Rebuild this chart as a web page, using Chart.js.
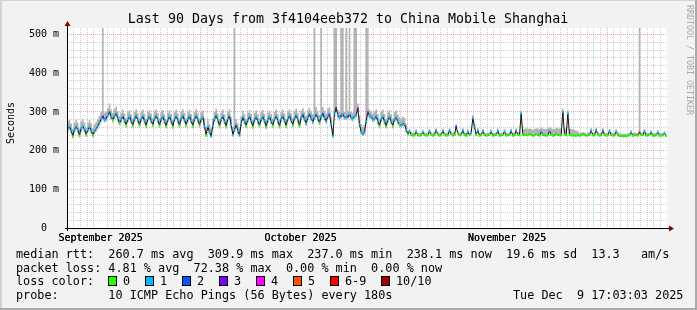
<!DOCTYPE html>
<html>
<head>
<meta charset="utf-8">
<script src="https://cdn.jsdelivr.net/npm/chart.js@4.4.1/dist/chart.umd.min.js"></script>
<style>
html, body { margin: 0; padding: 0; background: #f2f2f2; }
canvas { display: block; }
</style>
</head>
<body>
<canvas id="myChart" width="697" height="310"></canvas>
<script>
'use strict';

// smokeping graph, last 90 days, one bin = 6 hours
// x axis is in days since the start of the graph
var binStart = 0.125;
var binSize = 0.25;

var yTickValues = [0, 100, 200, 300, 400, 500];
var yTickLabels = ['0  ', '100 m', '200 m', '300 m', '400 m', '500 m'];
var yMinorStep = 20;
var yTop = 517;

var firstMidnight = 0.03;               // sep 11 00:00
var monthStarts = [20.03, 51.03, 81.03]; // oct 1, nov 1, dec 1
var monthLabelDays = [5.03, 35.03, 66.03];
var monthLabels = ['September 2025', 'October 2025', 'November 2025'];

var lossNames = ['0', '1', '2', '3', '4', '5', '6-9', '10/10'];
var lossColors = ['#26ff00', '#00b8ff', '#0059ff', '#7e00ff', '#ff00ff', '#ff5500', '#ff0000', '#a10000'];

// median rtt in ms, 4 values a day
var medianRtt = [
    258,262,252,237, 255,262,254,239, 258,263,255,241, 254,261,252,240, 250,256,264,272,
    282,288,280,284, 292,299,288,279, 290,296,283,271, 280,289,278,266, 281,288,277,265,
    282,290,279,266, 281,289,277,264, 282,288,278,266, 283,290,279,265, 281,288,276,263,
    280,288,277,262, 282,289,278,265, 283,290,279,266, 281,289,277,264, 282,290,280,266,
    281,287,262,240, 262,248,237,265, 282,291,278,264, 280,289,276,263, 282,290,266,241,
    254,267,250,240, 270,286,276,264, 280,288,277,262, 280,287,276,265, 281,288,277,262,
    280,287,276,265, 282,289,277,263, 281,289,278,264, 283,290,279,266, 284,291,280,264,
    285,292,282,270, 286,293,284,274, 287,294,283,272, 288,295,285,276, 289,294,268,238,
    296,310,292,285, 290,295,286,287, 288,294,285,283, 289,292,309,268, 248,244,247,276,
    300,291,288,281, 283,289,276,264, 281,288,276,263, 280,287,275,264, 281,286,275,268,
    265,270,268,254, 242,250,241,239, 240,249,240,239, 240,248,241,239, 240,250,241,239,
    241,252,242,239, 240,251,242,239, 240,252,243,239, 241,262,245,240, 241,252,241,239,
    249,240,246,284, 262,241,252,239, 240,250,241,239, 240,241,249,239, 240,241,251,239,
    240,241,249,239, 240,241,251,239, 240,252,241,240, 296,242,240,241, 240,244,241,239,
    240,243,241,239, 249,241,240,239, 240,251,241,239, 240,244,241,240, 240,300,242,240,
    296,241,240,239, 240,238,241,239, 240,242,241,239, 240,241,252,240, 240,253,242,239,
    240,252,241,239, 240,250,241,239, 240,249,241,238, 238,237,238,237, 239,240,247,239,
    240,241,239,247, 241,240,250,239, 240,240,247,239, 239,240,247,239, 239,240,244,238
];

// top of the smoke (slowest ping), 600 = off the top of the graph
var smokeHigh = [
    276,280,270,256, 273,280,272,258, 276,281,273,260, 272,279,270,258, 268,274,282,290,
    300,600,298,302, 310,322,306,297, 308,314,301,289, 298,306,296,284, 299,305,295,283,
    300,307,297,284, 299,306,295,282, 300,305,296,284, 301,307,297,283, 299,305,294,281,
    298,305,295,280, 300,306,296,283, 301,307,297,284, 299,306,295,282, 300,307,298,284,
    299,304,284,262, 282,268,258,284, 300,308,296,282, 298,306,294,281, 300,307,286,262,
    600,282,270,260, 288,303,294,282, 298,305,295,280, 298,304,294,283, 299,305,295,280,
    298,304,294,283, 300,306,295,281, 299,306,296,282, 301,307,297,284, 302,308,298,282,
    304,310,300,290, 305,311,302,294, 600,312,301,292, 600,313,303,296, 308,312,288,260,
    600,600,306,300, 600,600,300,600, 302,600,300,298, 600,600,322,290, 268,262,266,600,
    600,306,302,296, 302,307,295,283, 300,306,295,282, 299,305,294,283, 300,304,294,286,
    283,288,285,270, 250,256,248,246, 247,255,246,245, 247,254,247,245, 247,256,247,245,
    248,258,249,245, 247,257,248,245, 247,258,249,245, 248,268,251,246, 248,258,247,245,
    255,246,252,292, 270,247,258,245, 246,256,247,245, 246,247,255,245, 246,247,257,245,
    246,247,255,245, 246,247,257,245, 247,258,248,247, 304,254,256,258, 255,258,256,254,
    256,258,257,255, 260,257,256,255, 257,262,258,256, 256,259,258,257, 257,308,258,256,
    304,257,256,255, 254,252,250,245, 246,248,247,245, 246,247,258,246, 246,259,248,245,
    246,258,247,245, 246,256,247,245, 246,255,247,244, 244,243,244,243, 245,246,253,245,
    246,247,245,600, 247,246,256,245, 246,246,253,245, 245,246,253,245, 245,246,250,244
];

// bottom of the smoke (fastest ping)
var smokeLow = [
    250,254,245,232, 248,254,247,234, 250,255,248,235, 247,253,245,234, 244,249,256,264,
    274,280,272,276, 284,290,280,272, 282,288,276,265, 273,281,271,260, 274,280,270,259,
    275,282,272,260, 274,281,270,258, 275,280,271,260, 276,282,272,259, 274,280,269,257,
    273,280,270,256, 275,281,271,259, 276,282,272,260, 274,281,270,258, 275,282,273,260,
    274,279,256,235, 256,243,233,258, 275,283,271,258, 273,281,269,257, 275,282,260,236,
    248,260,245,235, 263,278,269,258, 273,280,270,256, 273,279,269,259, 274,280,270,256,
    273,279,269,259, 275,281,270,257, 274,281,271,258, 276,282,272,260, 277,283,273,258,
    278,284,275,264, 279,285,277,268, 280,286,276,266, 281,287,278,270, 282,286,262,233,
    288,300,285,278, 283,287,279,280, 281,286,278,276, 282,285,299,262, 242,238,241,269,
    290,283,281,274, 276,281,269,258, 274,280,269,257, 273,279,268,258, 274,278,268,262,
    259,263,261,248, 239,246,238,236, 237,245,237,236, 237,244,238,236, 237,246,238,236,
    238,248,239,236, 237,247,239,236, 237,248,240,236, 238,256,242,237, 238,248,238,236,
    245,237,242,276, 256,238,248,236, 237,246,238,236, 237,238,245,236, 237,238,247,236,
    237,238,245,236, 237,238,247,236, 237,248,238,237, 288,239,237,238, 237,240,238,236,
    237,240,238,236, 245,238,237,236, 237,247,238,236, 237,240,238,237, 237,292,239,237,
    288,238,237,236, 237,235,238,236, 237,239,238,236, 237,238,248,237, 237,249,239,236,
    237,248,238,236, 237,246,238,236, 237,245,238,235, 235,234,235,234, 236,237,243,236,
    237,238,236,243, 238,237,246,236, 237,237,243,236, 236,237,243,236, 236,237,241,235
];

// lost pings per bin, index into lossColors
var lossLevel = [
    1,1,1,0, 1,1,1,0, 1,1,1,0, 1,1,1,0, 1,1,1,1,
    1,3,1,2, 1,2,1,0, 1,1,1,0, 1,1,1,0, 1,1,1,0,
    1,1,1,0, 1,1,1,0, 1,1,1,0, 1,1,1,0, 1,1,1,0,
    1,1,1,0, 1,1,1,0, 1,1,1,0, 1,1,1,0, 1,1,1,0,
    1,1,1,0, 1,1,1,1, 1,1,1,0, 1,1,1,0, 1,1,1,1,
    1,1,1,1, 1,1,1,0, 1,1,1,0, 1,1,1,0, 1,1,1,0,
    1,1,1,0, 1,1,1,0, 1,1,1,0, 1,1,1,0, 1,1,1,0,
    1,2,1,1, 1,2,1,1, 1,1,1,0, 1,2,1,1, 1,2,1,1,
    1,3,1,1, 2,1,1,1, 3,1,1,1, 1,1,3,1, 1,1,1,1,
    4,1,1,1, 1,1,1,0, 1,1,1,0, 1,1,1,0, 1,1,1,0,
    1,1,1,1, 0,1,0,0, 0,1,0,0, 0,1,0,0, 0,1,0,0,
    0,1,0,0, 0,1,0,0, 0,1,0,0, 0,3,0,0, 0,1,0,0,
    1,0,1,1, 1,0,1,0, 0,1,0,0, 0,0,1,0, 0,0,1,0,
    0,0,1,0, 0,0,1,0, 0,1,0,0, 1,0,0,0, 0,0,0,0,
    0,0,0,0, 1,0,0,0, 0,1,0,0, 0,0,0,0, 0,1,0,0,
    1,0,0,0, 0,0,0,0, 0,0,0,0, 0,0,1,0, 0,1,0,0,
    0,1,0,0, 0,1,0,0, 0,1,0,0, 0,0,0,0, 0,0,1,0,
    0,0,0,6, 0,0,1,0, 0,0,1,0, 0,0,1,0, 0,0,1,0
];

var chartTitle = 'Last 90 Days from 3f4104eeb372 to China Mobile Shanghai';
var yAxisTitle = 'Seconds';
var legendLines = [
    'median rtt:  260.7 ms avg  309.9 ms max  237.0 ms min  238.1 ms now  19.6 ms sd  13.3   am/s',
    'packet loss: 4.81 % avg  72.38 % max  0.00 % min  0.00 % now',
    'loss color:',
    'probe:       10 ICMP Echo Pings (56 Bytes) every 180s'
];
var dateStamp = 'Tue Dec  9 17:03:03 2025';
var watermark = 'RRDTOOL / TOBI OETIKER';

var minorGrid = 'rgba(160,160,160,0.5)';
var majorGrid = 'rgba(215,90,90,0.55)';
var monoFont = '"DejaVu Sans Mono", monospace';

function toPoints(values) {
    return values.map(function (v, i) {
        return { x: binStart + i * binSize, y: v };
    });
}

function isMonthStart(v) {
    for (var i = 0; i < monthStarts.length; i++) {
        if (Math.abs(v - monthStarts[i]) < 0.01) return true;
    }
    return false;
}

function xGridColor(c) {
    if (!c.tick) return 'rgba(0,0,0,0)';
    if (monthLabelDays.indexOf(c.tick.value) >= 0) return 'rgba(0,0,0,0)';
    return isMonthStart(c.tick.value) ? majorGrid : minorGrid;
}

function yGridColor(c) {
    if (!c.tick) return 'rgba(0,0,0,0)';
    return c.tick.value % 100 === 0 ? majorGrid : minorGrid;
}

// background, frame, axes, title and the legend text
var paperPlugin = {
    id: 'paper',
    beforeDraw: function (chart) {
        var c = chart.ctx;
        var a = chart.chartArea;
        c.save();
        c.fillStyle = '#f2f2f2';
        c.fillRect(0, 0, chart.width, chart.height);
        c.fillStyle = '#d4d4d4';
        c.fillRect(0, 0, chart.width, 1);
        c.fillRect(0, 0, 2, chart.height);
        c.fillStyle = '#aaaaaa';
        c.fillRect(0, chart.height - 2, chart.width, 2);
        c.fillRect(chart.width - 2, 0, 2, chart.height);
        c.fillStyle = '#ffffff';
        c.fillRect(a.left, a.top, a.right - a.left, a.bottom - a.top);
        c.restore();
    },
    afterDraw: function (chart) {
        var c = chart.ctx;
        var a = chart.chartArea;
        c.save();

        // axis lines with the little arrows
        c.strokeStyle = '#000';
        c.lineWidth = 1;
        c.beginPath();
        c.moveTo(a.left - 2, a.bottom + 0.5);
        c.lineTo(a.right + 3, a.bottom + 0.5);
        c.stroke();
        c.beginPath();
        c.moveTo(a.left + 0.5, a.bottom + 3);
        c.lineTo(a.left + 0.5, a.top - 3);
        c.stroke();
        c.fillStyle = '#7f0000';
        c.beginPath();
        c.moveTo(a.right + 2, a.bottom - 2.5);
        c.lineTo(a.right + 7, a.bottom + 0.5);
        c.lineTo(a.right + 2, a.bottom + 3.5);
        c.fill();
        c.beginPath();
        c.moveTo(a.left - 2.5, a.top - 2);
        c.lineTo(a.left + 0.5, a.top - 7);
        c.lineTo(a.left + 3.5, a.top - 2);
        c.fill();

        c.fillStyle = '#000';
        c.textAlign = 'center';
        c.textBaseline = 'alphabetic';
        c.font = '13.3px ' + monoFont;
        c.fillText(chartTitle, 348, 23);

        c.save();
        c.translate(11, 123);
        c.rotate(-Math.PI / 2);
        c.font = '10px ' + monoFont;
        c.textBaseline = 'middle';
        c.fillText(yAxisTitle, 0, 0);
        c.restore();

        c.save();
        c.translate(689, 5);
        c.rotate(Math.PI / 2);
        c.font = '8.3px ' + monoFont;
        c.fillStyle = '#a8a8a8';
        c.textAlign = 'left';
        c.textBaseline = 'middle';
        c.fillText(watermark, 0, 0);
        c.restore();

        c.textAlign = 'left';
        c.font = '11.8px ' + monoFont;
        var rows = [258, 271.5, 285, 298.5];
        for (var i = 0; i < legendLines.length; i++) {
            c.fillText(legendLines[i], 16, rows[i]);
        }
        c.fillText(dateStamp, 513, rows[3]);

        var boxX = [108, 145, 182, 219, 256, 293, 330, 381];
        for (var k = 0; k < lossNames.length; k++) {
            c.fillStyle = lossColors[k];
            c.fillRect(boxX[k], 276, 9, 10);
            c.strokeStyle = '#000';
            c.strokeRect(boxX[k] + 0.5, 276.5, 8, 9);
            c.fillStyle = '#000';
            c.fillText(lossNames[k], boxX[k] + 15, rows[2]);
        }
        c.restore();
    }
};

var ctx = document.getElementById('myChart').getContext('2d');
Chart.defaults.font.family = monoFont;
Chart.defaults.color = '#000';

var chart = new Chart(ctx, {
    type: 'line',
    data: {
        datasets: [
            {
                label: 'loss',
                data: toPoints(medianRtt),
                showLine: false,
                pointStyle: 'line',
                pointRadius: 0.9,
                pointHoverRadius: 0.9,
                pointBorderWidth: 2,
                pointBorderColor: function (c) {
                    return lossColors[lossLevel[c.dataIndex]];
                },
                order: 0
            },
            {
                label: 'median rtt',
                data: toPoints(medianRtt),
                borderColor: '#111',
                borderWidth: 1,
                pointRadius: 0,
                order: 1
            },
            {
                label: 'smoke high',
                data: toPoints(smokeHigh),
                borderWidth: 0,
                borderColor: 'rgba(0,0,0,0)',
                backgroundColor: '#b4b4b4',
                pointRadius: 0,
                stepped: 'middle',
                fill: '+1',
                order: 2
            },
            {
                label: 'smoke low',
                data: toPoints(smokeLow),
                borderWidth: 0,
                borderColor: 'rgba(0,0,0,0)',
                pointRadius: 0,
                stepped: 'middle',
                fill: false,
                order: 3
            }
        ]
    },
    options: {
        responsive: false,
        animation: false,
        devicePixelRatio: 1,
        parsing: false,
        layout: { padding: { left: 0, right: 30, top: 28, bottom: 0 } },
        plugins: {
            legend: { display: false },
            tooltip: { enabled: false }
        },
        scales: {
            x: {
                type: 'linear',
                min: 0,
                max: 90,
                afterFit: function (s) { s.height = 82; },
                afterBuildTicks: function (s) {
                    var t = [];
                    for (var d = firstMidnight; d < 90; d += 1) t.push({ value: d });
                    monthLabelDays.forEach(function (d) { t.push({ value: d }); });
                    t.sort(function (p, q) { return p.value - q.value; });
                    s.ticks = t;
                },
                grid: { color: xGridColor, drawTicks: false, lineWidth: 1 },
                border: { display: false, dash: [1, 1] },
                ticks: {
                    autoSkip: false,
                    maxRotation: 0,
                    minRotation: 0,
                    padding: 4,
                    font: { size: 10 },
                    callback: function (value) {
                        var k = monthLabelDays.indexOf(value);
                        return k >= 0 ? monthLabels[k] : '';
                    }
                }
            },
            y: {
                type: 'linear',
                min: 0,
                max: yTop,
                afterFit: function (s) { s.width = 67; },
                afterBuildTicks: function (s) {
                    var t = [];
                    for (var v = 0; v <= yTickValues[yTickValues.length - 1]; v += yMinorStep) t.push({ value: v });
                    s.ticks = t;
                },
                grid: { color: yGridColor, drawTicks: false, lineWidth: 1 },
                border: { display: false, dash: [1, 1] },
                ticks: {
                    autoSkip: false,
                    padding: 8,
                    font: { size: 10 },
                    callback: function (value) {
                        var k = yTickValues.indexOf(value);
                        return k >= 0 ? yTickLabels[k] : '';
                    }
                }
            }
        }
    },
    plugins: [paperPlugin]
});
</script>
</body>
</html>
